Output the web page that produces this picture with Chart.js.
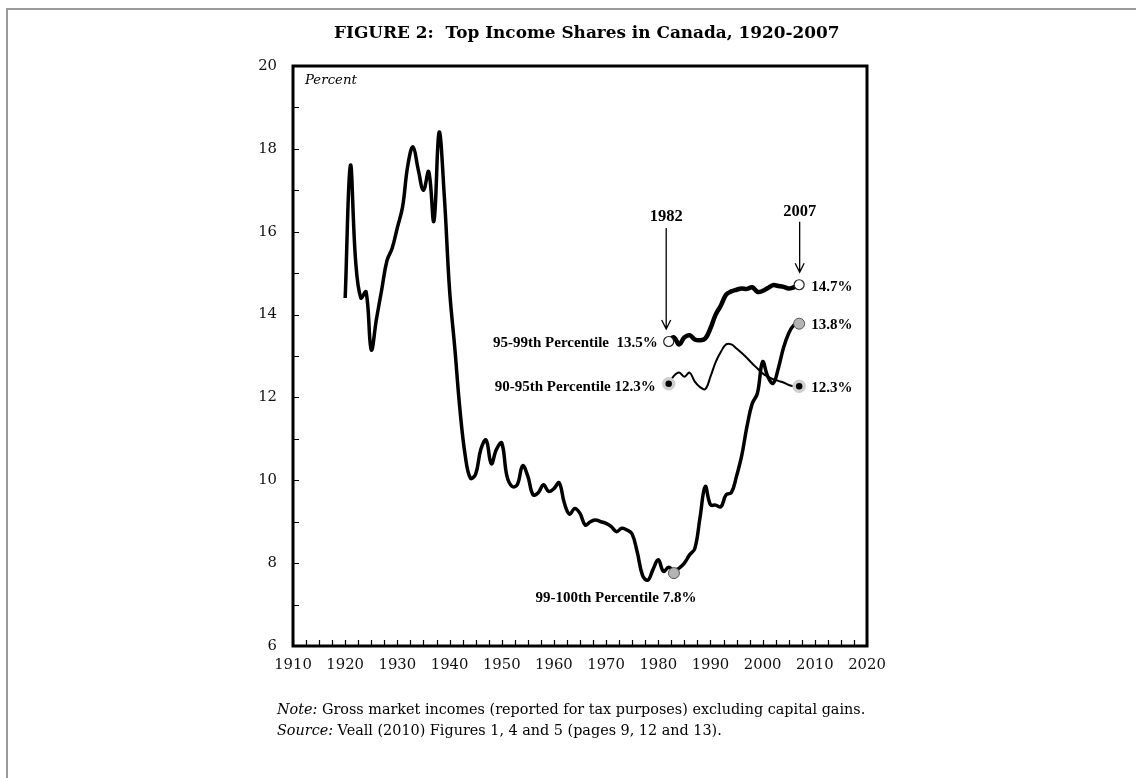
<!DOCTYPE html>
<html>
<head>
<meta charset="utf-8">
<script src="https://cdn.jsdelivr.net/npm/chart.js@4.4.1/dist/chart.umd.min.js"></script>
<style>
  html, body { margin: 0; padding: 0; background: #fff; }
  #wrap { position: relative; width: 1136px; height: 778px; overflow: hidden; }
  #frame { position: absolute; left: 6px; top: 8px; width: 1200px; height: 1000px;
           border-left: 2px solid #9a9a9a; border-top: 2px solid #9a9a9a; }
  canvas { position: absolute; left: 0; top: 0; }
</style>
</head>
<body>
<div id="wrap"><div id="frame"></div><canvas id="c" width="1136" height="778"></canvas></div>
<script>
// ---- data ----
const top1Years = [];
for (let y = 1920; y <= 2007; y++) top1Years.push(y);
const top1Values = [
  14.4, 17.6, 15.3, 14.4, 14.55, 13.15, 13.9, 14.6, 15.3, 15.6,     // 1920-1929
  16.1, 16.6, 17.6, 18.05, 17.5, 17.0, 17.45, 16.25, 18.4, 16.85,   // 1930-1939
  14.6, 13.2, 11.7, 10.6, 10.05, 10.15, 10.75, 10.97, 10.4, 10.75,  // 1940-1949
  10.9, 10.1, 9.85, 9.9, 10.35, 10.1, 9.65, 9.7, 9.89, 9.73,        // 1950-1959
  9.8, 9.94, 9.45, 9.18, 9.32, 9.2, 8.92, 9.0, 9.04, 9.0,           // 1960-1969
  8.96, 8.88, 8.76, 8.84, 8.8, 8.7, 8.25, 7.7, 7.59, 7.85,          // 1970-1979
  8.08, 7.8, 7.9, 7.82, 7.88, 8.0, 8.2, 8.35, 9.1, 9.85,            // 1980-1989
  9.41, 9.4, 9.36, 9.65, 9.7, 10.1, 10.6, 11.3, 11.85, 12.1,        // 1990-1999
  12.86, 12.5, 12.34, 12.7, 13.2, 13.55, 13.75, 13.78               // 2000-2007
];
const midYears = [];
for (let y = 1982; y <= 2007; y++) midYears.push(y);
const p95Values = [
  13.38, 13.45, 13.28, 13.45, 13.5, 13.4, 13.38, 13.42, 13.67, 14.0,
  14.22, 14.48, 14.56, 14.6, 14.63, 14.62, 14.66, 14.55, 14.57, 14.64,
  14.71, 14.69, 14.67, 14.63, 14.66, 14.7
];
const p90Values = [
  12.32, 12.52, 12.6, 12.5, 12.6, 12.38, 12.25, 12.2, 12.5, 12.85,
  13.1, 13.28, 13.28, 13.18, 13.07, 12.95, 12.82, 12.7, 12.58, 12.5,
  12.44, 12.4, 12.36, 12.3, 12.27, 12.26
];
// end markers
const markYears95 = [1982, 2007], markVals95 = [13.35, 14.72];
const markYears99 = [1983, 2007], markVals99 = [7.76, 13.78];
const markYears90 = [1982, 2007], markVals90 = [12.33, 12.27];
const xTickLabels = [1910, 1920, 1930, 1940, 1950, 1960, 1970, 1980, 1990, 2000, 2010, 2020];
const yTickLabels = [6, 8, 10, 12, 14, 16, 18, 20];

const zip = (xs, ys) => xs.map((x, i) => ({ x: x, y: ys[i] }));

const SERIF = "'DejaVu Serif', serif";
const TIMES = "'Liberation Serif', 'Times New Roman', serif";

function fitFont(ctx, text, style, weight, family, targetW) {
  ctx.font = `${style} ${weight} 100px ${family}`;
  const w = ctx.measureText(text).width;
  const size = 100 * targetW / w;
  ctx.font = `${style} ${weight} ${size}px ${family}`;
  return size;
}

const decor = {
  id: 'decor',
  afterDraw(chart) {
    const ctx = chart.ctx;
    const a = chart.chartArea;
    const xs = chart.scales.x, ys = chart.scales.y;
    ctx.save();
    ctx.fillStyle = '#000';
    ctx.strokeStyle = '#000';
    // inward ticks
    ctx.lineWidth = 1.2;
    ctx.beginPath();
    for (let v = 6; v <= 20; v += 1) {
      const py = Math.round(ys.getPixelForValue(v)) + 0.5;
      ctx.moveTo(a.left, py); ctx.lineTo(a.left + 6, py);
    }
    for (let v = 1910; v <= 2020; v += 2.5) {
      const px = Math.round(xs.getPixelForValue(v)) + 0.5;
      ctx.moveTo(px, a.bottom); ctx.lineTo(px, a.bottom - 6);
    }
    ctx.stroke();
    // frame
    ctx.lineWidth = 3;
    ctx.strokeRect(a.left, a.top, a.right - a.left, a.bottom - a.top);

    // title
    ctx.textBaseline = 'middle';
    ctx.textAlign = 'left';
    const title = 'FIGURE 2:  Top Income Shares in Canada, 1920-2007';
    fitFont(ctx, title, 'normal', 'bold', SERIF, 506);
    ctx.fillText(title, 334, 34);
    // Percent
    fitFont(ctx, 'Percent', 'italic', 'normal', SERIF, 52);
    ctx.fillText('Percent', a.left + 12, a.top + 15);

    // annotations
    const P = (x, y) => ({ x: xs.getPixelForValue(x), y: ys.getPixelForValue(y) });
    ctx.font = `bold 15px ${TIMES}`;
    const m95a = P(markYears95[0], markVals95[0]), m95b = P(markYears95[1], markVals95[1]);
    const m90a = P(markYears90[0], markVals90[0]), m90b = P(markYears90[1], markVals90[1]);
    const m99a = P(markYears99[0], markVals99[0]), m99b = P(markYears99[1], markVals99[1]);
    ctx.textAlign = 'right';
    ctx.fillText('95-99th Percentile  13.5%', m95a.x - 11, m95a.y + 2);
    ctx.fillText('90-95th Percentile 12.3%', m90a.x - 13, m90a.y + 3);
    ctx.textAlign = 'left';
    ctx.fillText('14.7%', m95b.x + 12, m95b.y + 2);
    ctx.fillText('13.8%', m99b.x + 12, m99b.y + 1);
    ctx.fillText('12.3%', m90b.x + 12, m90b.y + 2);
    ctx.textAlign = 'center';
    ctx.fillText('99-100th Percentile 7.8%', m99a.x - 58, m99a.y + 25);

    // arrows
    function arrow(x, yTopVal, tipY, label, labelVal) {
      const yTop = ys.getPixelForValue(yTopVal);
      ctx.lineWidth = 1.3;
      ctx.beginPath();
      ctx.moveTo(x, yTop); ctx.lineTo(x, tipY);
      ctx.moveTo(x - 4.5, tipY - 9); ctx.lineTo(x, tipY); ctx.lineTo(x + 4.5, tipY - 9);
      ctx.stroke();
      ctx.textAlign = 'center';
      ctx.font = `bold 16.5px ${TIMES}`;
      ctx.fillText(label, x, ys.getPixelForValue(labelVal));
    }
    arrow(m95a.x - 2.5, 16.09, m95a.y - 12.5, '1982', 16.37);
    arrow(m95b.x + 0.5, 16.24, m95b.y - 12.5, '2007', 16.48);

    // notes
    ctx.textAlign = 'left';
    const n1 = 'Note: Gross market incomes (reported for tax purposes) excluding capital gains.';
    const size = fitFont(ctx, n1, 'normal', 'normal', SERIF, 589);
    function mixed(parts, x, y) {
      let cx = x;
      for (const [txt, it] of parts) {
        ctx.font = `${it ? 'italic' : 'normal'} normal ${size}px ${SERIF}`;
        ctx.fillText(txt, cx, y);
        cx += ctx.measureText(txt).width;
      }
    }
    mixed([['Note:', true], [' Gross market incomes (reported for tax purposes) excluding capital gains.', false]], 277, 710);
    mixed([['Source:', true], [' Veall (2010) Figures 1, 4 and 5 (pages 9, 12 and 13).', false]], 277, 731);
    ctx.restore();
  }
};

const tickFont = { family: SERIF, size: 14.8 };
new Chart(document.getElementById('c').getContext('2d'), {
  type: 'line',
  data: {
    datasets: [
      { data: zip(markYears95, markVals95), showLine: false, pointRadius: 5, pointBorderWidth: 1.2,
        pointBackgroundColor: '#fff', pointBorderColor: '#222', order: 0 },
      { data: zip(markYears99, markVals99), showLine: false, pointRadius: 5.5, pointBorderWidth: 1,
        pointBackgroundColor: '#b4b4b4', pointBorderColor: '#555', order: 0 },
      { data: zip(markYears90, markVals90), showLine: false, pointRadius: 5, pointBorderWidth: 3.5,
        pointBackgroundColor: '#000', pointBorderColor: '#cfcfcf', order: 0 },
      { data: zip(midYears, p95Values), borderColor: '#000', borderWidth: 4.5, pointRadius: 0,
        tension: 0.4, order: 1 },
      { data: zip(midYears, p90Values), borderColor: '#000', borderWidth: 2, pointRadius: 0,
        tension: 0.4, order: 2 },
      { data: zip(top1Years, top1Values), borderColor: '#000', borderWidth: 3.5, pointRadius: 0,
        tension: 0.4, order: 3 }
    ]
  },
  options: {
    responsive: false,
    animation: false,
    events: [],
    layout: { padding: { left: 253, right: 269, top: 66, bottom: 92 } },
    plugins: { legend: { display: false }, tooltip: { enabled: false } },
    scales: {
      x: {
        type: 'linear', min: 1910, max: 2020,
        afterBuildTicks: s => { s.ticks = xTickLabels.map(v => ({ value: v })); },
        ticks: { font: tickFont, color: '#111', padding: 10, maxRotation: 0, autoSkip: false,
                 callback: v => String(v) },
        grid: { display: false, drawTicks: false },
        border: { display: false },
        afterFit: s => { s.height = 40; }
      },
      y: {
        min: 6, max: 20,
        afterBuildTicks: s => { s.ticks = yTickLabels.map(v => ({ value: v })); },
        ticks: { font: tickFont, color: '#111', padding: 16, callback: v => String(v) },
        grid: { display: false, drawTicks: false },
        border: { display: false },
        afterFit: s => { s.width = 40; }
      }
    }
  },
  plugins: [decor]
});
</script>
</body>
</html>
